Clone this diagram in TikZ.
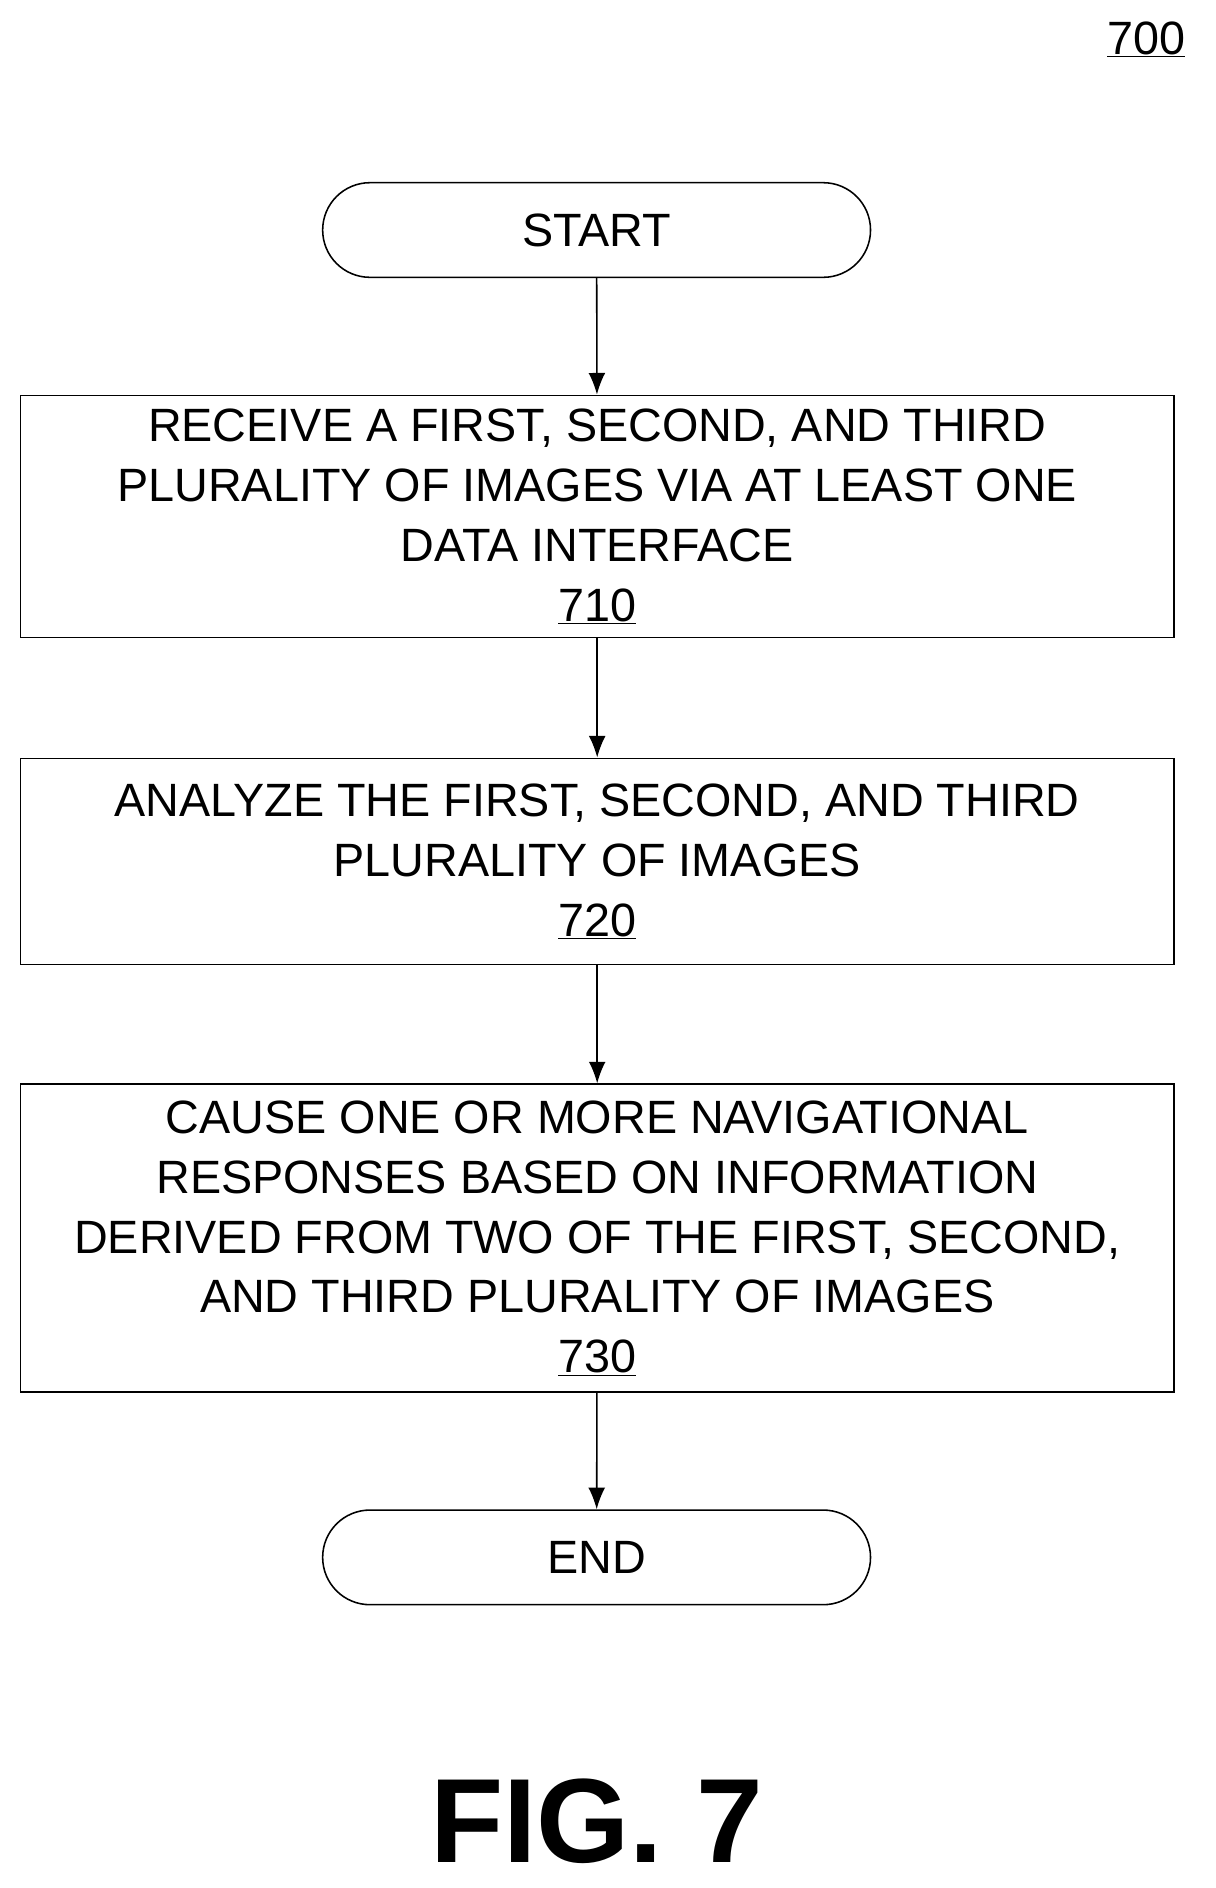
\documentclass[tikz,border=0pt]{standalone}
\usepackage{fontspec}
\setmainfont{Liberation Sans}
\usetikzlibrary{arrows.meta,shapes.misc}

\tikzset{
  stepbox/.style={draw, line width=1.3pt, minimum width=963pt, align=center,
    font=\fontsize{39}{50}\selectfont, inner sep=0pt},
  term/.style={draw, line width=1.3pt, rounded rectangle, minimum width=464pt,
    minimum height=79pt, font=\fontsize{39}{47}\selectfont},
  flow/.style={line width=1.3pt, -{Latex[length=18pt,width=14pt]}}
}

\begin{document}
\begin{tikzpicture}[x=1pt, y=-1pt]

 \useasboundingbox (0,0) rectangle (1015,1576);

 %%%%%%%%%% Label %%%%%%%%%%
 \node (fig) at (957,33) {\fontsize{39}{47}\selectfont\underline{700}};

 %%%%%%%%%% Steps %%%%%%%%%%
 \node[term] (start) at (498,192) {START};
 \node[stepbox, minimum height=202pt] (s710) at (498.5,431)
   {RECEIVE A FIRST, SECOND, AND THIRD\\PLURALITY OF IMAGES VIA AT LEAST ONE\\DATA INTERFACE\\\underline{710}};
 \node[stepbox, minimum height=172pt] (s720) at (498.5,719)
   {ANALYZE THE FIRST, SECOND, AND THIRD\\PLURALITY OF IMAGES\\\underline{720}};
 \node[stepbox, minimum height=257pt] (s730) at (498.5,1033.5)
   {CAUSE ONE OR MORE NAVIGATIONAL\\RESPONSES BASED ON INFORMATION\\DERIVED FROM TWO OF THE FIRST, SECOND,\\AND THIRD PLURALITY OF IMAGES\\\underline{730}};
 \node[term] (end) at (498,1300) {END};

 %%%%%%%%%% Arrows %%%%%%%%%%
 \draw[flow] (start) -- (s710);
 \draw[flow] (s710) -- (s720);
 \draw[flow] (s720) -- (s730);
 \draw[flow] (s730) -- (end);

 \node[font=\fontsize{100}{110}\selectfont\bfseries] (caption) at (498,1520) {FIG. 7};

\end{tikzpicture}
\end{document}
